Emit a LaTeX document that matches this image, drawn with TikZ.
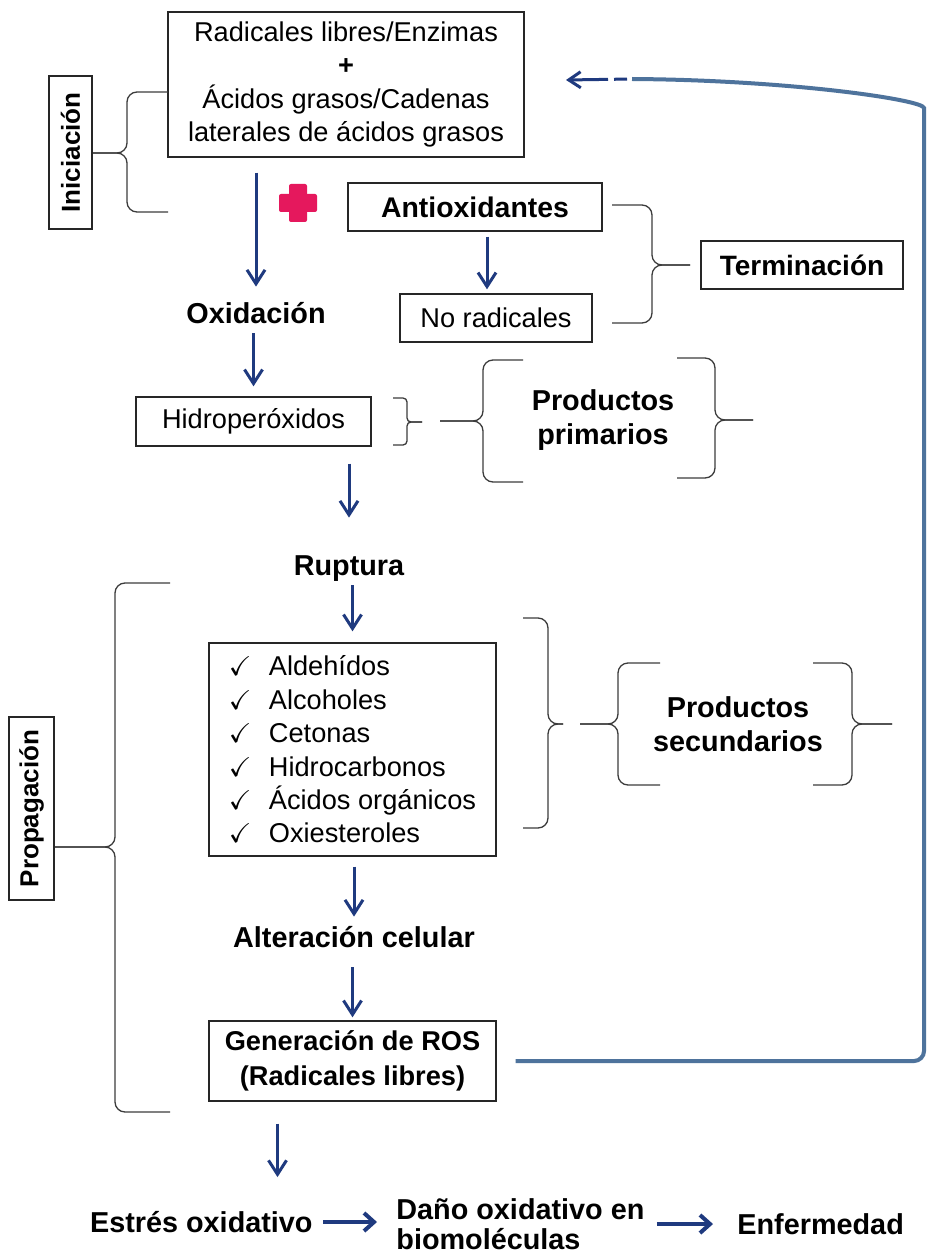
\documentclass[tikz,border=0pt]{standalone}
\usepackage{amssymb}
\usepackage{fontspec}
\setmainfont{Liberation Sans}
\usetikzlibrary{arrows.meta,calc}
\definecolor{azulflecha}{HTML}{1F3A7F}
\definecolor{azulretorno}{HTML}{4E739C}
\definecolor{rojocruz}{HTML}{E5185D}
\definecolor{tinta}{HTML}{262626}
\tikzset{
  caja/.style={draw=tinta, line width=0.7pt, inner sep=0pt, align=center, font=\fontsize{13.6}{16.7}\selectfont},
  caja bold/.style={caja, font=\fontsize{14.2}{17.5}\selectfont\bfseries},
  rotulo/.style={inner sep=0pt, font=\fontsize{14.4}{15}\selectfont\bfseries, text height=10.5pt, text depth=0pt},
  rotulo doble/.style={inner sep=0pt, align=center, font=\fontsize{14.4}{17}\selectfont\bfseries},
  fase/.style={caja, rotate=90, font=\fontsize{13}{15}\selectfont\bfseries},
  flecha/.style={-{Straight Barb[length=7pt,width=9pt]}, line width=1.5pt, azulflecha},
  flecha ancha/.style={flecha, line width=2pt, -{Straight Barb[length=5pt,width=9pt]}},
  retorno/.style={line width=2pt, azulretorno, rounded corners=5pt},
  llave/.style={draw=tinta!90, line width=0.65pt},
}
\newcommand{\llave}[7][5pt]{%
  \draw[llave, rounded corners=#1] (#2,#5) -- (#3,#5) -- (#3,#6) -- (#4,#6);
  \draw[llave, rounded corners=#1] (#2,#7) -- (#3,#7) -- (#3,#6) -- (#4,#6);}
\newcommand{\marca}{\makebox[20pt][l]{\checkmark}}

\begin{document}
\begin{tikzpicture}[x=0.5pt, y=-0.5pt]
  \path[use as bounding box, fill=white] (0,0) rectangle (928,1257);

  \node[caja, minimum width=178pt, minimum height=72.5pt] (top) at (346,84.5)
    {Radicales libres/Enzimas\\{\bfseries +}\\Ácidos grasos/Cadenas\\laterales de ácidos grasos};
  \node[fase, minimum width=76.5pt, minimum height=21.5pt] (inic) at (70.5,152.5) {Iniciación};
  \node[caja bold, minimum width=127pt, minimum height=24pt] (antiox) at (475,207) {Antioxidantes};
  \node[caja, minimum width=96pt, minimum height=24pt] (norad) at (496,318) {No radicales};
  \node[caja bold, font=\fontsize{14}{16}\selectfont\bfseries, minimum width=101pt, minimum height=24pt] (term) at (802,265) {Terminación};
  \node[rotulo] (oxid) at (256,313) {Oxidación};
  \node[caja, minimum width=117.5pt, minimum height=24.5pt] (hidro) at (253.5,421.5) {Hidroperóxidos};
  \node[rotulo doble] (prim) at (603,420) {Productos\\primarios};
  \node[rotulo] (rupt) at (349,565) {Ruptura};
  \node[caja, align=left, minimum width=143.5pt, minimum height=106.5pt] (lista) at (352.5,749.5)
    {\marca Aldehídos\\\marca Alcoholes\\\marca Cetonas\\\marca Hidrocarbonos\\\marca Ácidos orgánicos\\\marca Oxiesteroles};
  \node[rotulo doble] (secu) at (738,724) {Productos\\secundarios};
  \node[fase, minimum width=91.5pt, minimum height=22.5pt] (prop) at (31.5,808.5) {Propagación};
  \node[rotulo] (alter) at (354,937) {Alteración celular};
  \node[caja, font=\fontsize{13.6}{17.5}\selectfont\bfseries, minimum width=143.5pt, minimum height=40pt] (ros) at (352.5,1061)
    {Generación de ROS\\(Radicales libres)};
  \node[rotulo, anchor=east] (estres) at (313,1222) {Estrés oxidativo};
  \node[inner sep=0pt, align=left, anchor=west, font=\fontsize{14.4}{15}\selectfont\bfseries] (dano) at (396,1224)
    {Daño oxidativo en\\biomoléculas};
  \node[rotulo, anchor=west] (enf) at (737,1224) {Enfermedad};

  \fill[rojocruz, rounded corners=1pt] (289,184) rectangle (307,222);
  \fill[rojocruz, rounded corners=1pt] (279,194) rectangle (317,212);

  \llave{168}{127}{93}{92}{153}{212}
  \llave{612}{652}{690}{205}{265}{323}
  \llave[2pt]{393}{407}{422}{398}{422}{445}
  \llave{523}{483}{440}{360}{421}{482}
  \llave{677}{715}{753}{358}{420}{478}
  \llave{523}{548}{563}{618}{724}{828}
  \llave{660}{618}{580}{663}{724}{785}
  \llave{813}{852}{892}{663}{724}{785}
  \llave{170}{115}{55}{583}{847}{1112}

  \foreach \a/\b/\i/\f in {top/oxid/7.5pt/7.75pt, oxid/hidro/4.75pt/5pt, hidro/rupt/8.5pt/18.25pt,
                           rupt/lista/4.75pt/5.5pt, lista/alter/5pt/4.75pt, alter/ros/9.75pt/1.5pt}
    \draw[flecha, shorten <=\i, shorten >=\f] (\a.south -| \b) -- (\b.north);
  \draw[flecha, shorten <=2.5pt, shorten >=2pt] ([xshift=6pt]antiox.south) -- ([xshift=6pt]antiox.south |- norad.north);
  \draw[flecha, shorten <=11pt, shorten >=17pt] ([xshift=-37.5pt]ros.south) -- ([xshift=-37.5pt]ros.south |- estres.north);
  \draw[flecha ancha, shorten <=5pt, shorten >=9.5pt] (estres.east) -- (estres.east -| dano.west);
  \draw[flecha ancha, shorten <=6pt, shorten >=12pt] (dano.east |- enf.west) -- (enf.west);

  \coordinate (esq1) at (924,1060);
  \coordinate (esq2) at (924,118);
  \coordinate (fin) at (632,79);
  \coordinate (punta) at (566,80);
  \draw[retorno, shorten <=9.5pt] (ros.east) -- (ros.east -| esq1) -- (esq2) .. controls (924,100) and (790,80) .. (fin);
  \draw[flecha, -{Straight Barb[length=6pt,width=8pt]}, dash pattern=on 0pt off 2.5pt on 6.5pt off 3pt on 60pt] (fin) -- (punta);
\end{tikzpicture}
\end{document}
